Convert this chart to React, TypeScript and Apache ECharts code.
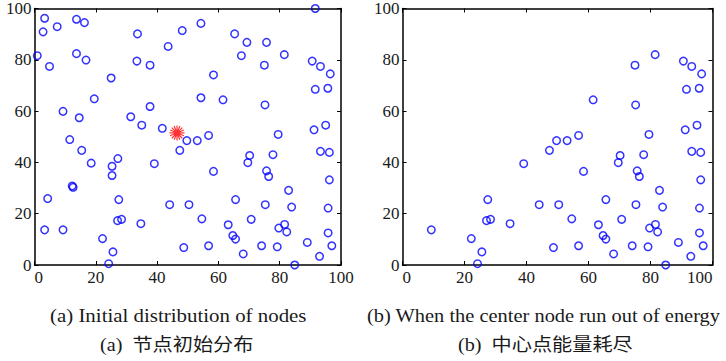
import React, { useEffect, useRef } from "react";
import * as echarts from "echarts";

// ---- data ----
const tickValues = [0, 20, 40, 60, 80, 100];

const initialNodes: [number, number][] = [
  [3.3, 96.2], [2.8, 90.9], [7.4, 92.9], [13.7, 95.8], [16.3, 94.5],
  [0.9, 81.6], [4.9, 77.4], [13.7, 82.4], [16.8, 79.9], [33.6, 90.1],
  [33.4, 79.5], [37.7, 77.9], [43.6, 85.2], [48.2, 91.4], [25.0, 72.9],
  [19.5, 64.8], [9.3, 59.9], [14.6, 57.4], [37.7, 61.8], [31.4, 57.8],
  [35.0, 54.5], [41.7, 53.3], [11.5, 48.9],
  [91.6, 100], [54.3, 94.2], [65.3, 90.1], [69.3, 86.8], [75.7, 86.8],
  [67.5, 81.6], [81.5, 82.0], [75.0, 77.9], [90.6, 79.5], [93.3, 77.4],
  [96.5, 74.5], [58.4, 74.1], [54.3, 65.2], [61.5, 64.4], [75.2, 62.4],
  [91.6, 68.5], [95.7, 68.9], [91.2, 52.7], [95.0, 54.5], [79.5, 50.9],
  [56.8, 50.5], [49.7, 48.5], [53.1, 48.5],
  [47.4, 44.7], [70.2, 42.7], [69.6, 39.9], [77.8, 43.0], [58.4, 36.5],
  [75.7, 36.7], [76.4, 34.5], [93.3, 44.3], [96.2, 43.9], [96.2, 33.2],
  [82.9, 29.1], [65.6, 25.5], [75.3, 23.5], [83.9, 22.6], [95.8, 22.2],
  [50.4, 23.5], [44.1, 23.5], [54.6, 18.0], [70.7, 17.8], [63.2, 15.7],
  [81.6, 15.8], [79.7, 14.4], [82.3, 12.9], [64.7, 11.5], [65.6, 10.1],
  [95.8, 12.5], [48.7, 6.8], [56.8, 7.5], [68.1, 4.3], [74.1, 7.5],
  [79.2, 7.1], [89.0, 8.8], [97.0, 7.5], [93.0, 3.4], [84.9, 0],
  [15.4, 44.7], [18.5, 39.7], [27.2, 41.5], [25.3, 38.5], [25.3, 34.9],
  [39.1, 39.5], [12.3, 30.8], [12.6, 30.3], [4.3, 25.9], [27.5, 25.5],
  [3.3, 13.7], [9.3, 13.7], [22.2, 10.3], [27.1, 17.3], [28.4, 17.8],
  [34.7, 16.1], [25.6, 5.1], [24.2, 0.5],
];

const remainingNodes: [number, number][] = [
  [81.5, 82.0], [75.0, 77.9], [90.6, 79.5], [93.3, 77.4], [96.5, 74.5],
  [61.5, 64.4], [75.2, 62.4], [91.6, 68.5], [95.7, 68.9], [91.2, 52.7],
  [95.0, 54.5], [79.5, 50.9], [56.8, 50.5], [49.7, 48.5], [53.1, 48.5],
  [47.4, 44.7], [70.2, 42.7], [69.6, 39.9], [77.8, 43.0], [58.4, 36.5],
  [75.7, 36.7], [76.4, 34.5], [93.3, 44.3], [96.2, 43.9], [96.2, 33.2],
  [82.9, 29.1], [65.6, 25.5], [75.3, 23.5], [83.9, 22.6], [95.8, 22.2],
  [50.4, 23.5], [44.1, 23.5], [54.6, 18.0], [70.7, 17.8], [63.2, 15.7],
  [81.6, 15.8], [79.7, 14.4], [82.3, 12.9], [64.7, 11.5], [65.6, 10.1],
  [95.8, 12.5], [48.7, 6.8], [56.8, 7.5], [68.1, 4.3], [74.1, 7.5],
  [79.2, 7.1], [89.0, 8.8], [97.0, 7.5], [93.0, 3.4], [84.9, 0],
  [39.1, 39.5], [27.5, 25.5], [9.3, 13.7], [22.2, 10.3], [27.1, 17.3],
  [28.4, 17.8], [34.7, 16.1], [25.6, 5.1], [24.2, 0.5],
];

const centerNode: [number, number][] = [[46.5, 51.5]];

const captions = [
  "(a) Initial distribution of nodes",
  "(a)  节点初始分布",
  "(b) When the center node run out of energy",
  "(b)  中心点能量耗尽",
];

const SERIF = "'Liberation Serif', 'Times New Roman', serif";
const MIXED = "'Liberation Serif', 'Noto Sans CJK SC', serif";
const INK = "#1a1a1a";

const STAR_PATH =
  "path://M-10,0L10,0M-9.24,-3.83L9.24,3.83M-7.07,-7.07L7.07,7.07M-3.83,-9.24L3.83,9.24M0,-10L0,10M3.83,-9.24L-3.83,9.24M7.07,-7.07L-7.07,7.07M9.24,-3.83L-9.24,3.83";

function axis(gridIndex: number, position: string, showLabel: boolean, isX: boolean, maxAlign?: string) {
  const a: any = {
    type: "value",
    gridIndex,
    position,
    min: tickValues[0],
    max: tickValues[tickValues.length - 1],
    interval: tickValues[1] - tickValues[0],
    splitLine: { show: false },
    axisLine: { show: true, onZero: false, lineStyle: { color: "#000", width: 1.5 } },
    axisTick: { show: true, inside: true, length: 4, lineStyle: { color: "#000", width: 1 } },
    axisLabel: {
      show: showLabel,
      color: INK,
      fontFamily: SERIF,
      fontSize: 17,
      margin: isX ? 4 : 3,
      showMinLabel: true,
      showMaxLabel: true,
      hideOverlap: false,
    },
  };
  if (isX) {
    a.axisLabel.alignMinLabel = "left";
    if (maxAlign) a.axisLabel.alignMaxLabel = maxAlign;
  }
  return a;
}

export default function App() {
  const ref = useRef<HTMLDivElement>(null);
  useEffect(() => {
    if (!ref.current) return;
    const chart = echarts.init(ref.current, undefined, { renderer: "svg" });
    const circleStyle = {
      color: "rgba(0,0,0,0)",
      borderColor: "#0000ff",
      borderWidth: 1.5,
    };
    chart.setOption({
      animation: false,
      backgroundColor: "#ffffff",
      grid: [
        { left: 34.5, top: 7, width: 306.5, height: 258 },
        { left: 402.5, top: 7, width: 310, height: 258 },
      ],
      xAxis: [
        axis(0, "bottom", true, true, "center"),
        axis(0, "top", false, true),
        axis(1, "bottom", true, true, "right"),
        axis(1, "top", false, true),
      ],
      yAxis: [
        axis(0, "left", true, false),
        axis(0, "right", false, false),
        axis(1, "left", true, false),
        axis(1, "right", false, false),
      ],
      series: [
        {
          type: "scatter",
          xAxisIndex: 0,
          yAxisIndex: 0,
          data: initialNodes,
          symbol: "circle",
          symbolSize: 7.5,
          itemStyle: circleStyle,
          silent: true,
          clip: false,
        },
        {
          type: "scatter",
          xAxisIndex: 0,
          yAxisIndex: 0,
          data: centerNode,
          symbol: STAR_PATH,
          symbolSize: 15,
          itemStyle: { color: "#ff0000", borderColor: "#ff0000", borderWidth: 1.2 },
          silent: true,
          z: 3,
        },
        {
          type: "scatter",
          xAxisIndex: 2,
          yAxisIndex: 2,
          data: remainingNodes,
          symbol: "circle",
          symbolSize: 7.5,
          itemStyle: circleStyle,
          silent: true,
          clip: false,
        },
      ],
      graphic: [
        {
          type: "text", x: 50, y: 315, scaleX: 1.1,
          style: { text: captions[0], fontFamily: SERIF, fontSize: 19, fill: INK, textAlign: "left", textVerticalAlign: "middle", verticalAlign: "middle" },
        },
        {
          type: "text", x: 100, y: 345, scaleX: 1.12,
          style: { text: captions[1], fontFamily: MIXED, fontSize: 18, fill: INK, textAlign: "left", textVerticalAlign: "middle", verticalAlign: "middle" },
        },
        {
          type: "text", x: 367, y: 315, scaleX: 1.075,
          style: { text: captions[2], fontFamily: SERIF, fontSize: 19, fill: INK, textAlign: "left", textVerticalAlign: "middle", verticalAlign: "middle" },
        },
        {
          type: "text", x: 458, y: 345, scaleX: 1.12,
          style: { text: captions[3], fontFamily: MIXED, fontSize: 18, fill: INK, textAlign: "left", textVerticalAlign: "middle", verticalAlign: "middle" },
        },
      ],
    });
    return () => chart.dispose();
  }, []);
  return (
    <div
      ref={ref}
      style={{ position: "fixed", left: 0, top: 0, width: 726, height: 361, background: "#fff" }}
    />
  );
}
